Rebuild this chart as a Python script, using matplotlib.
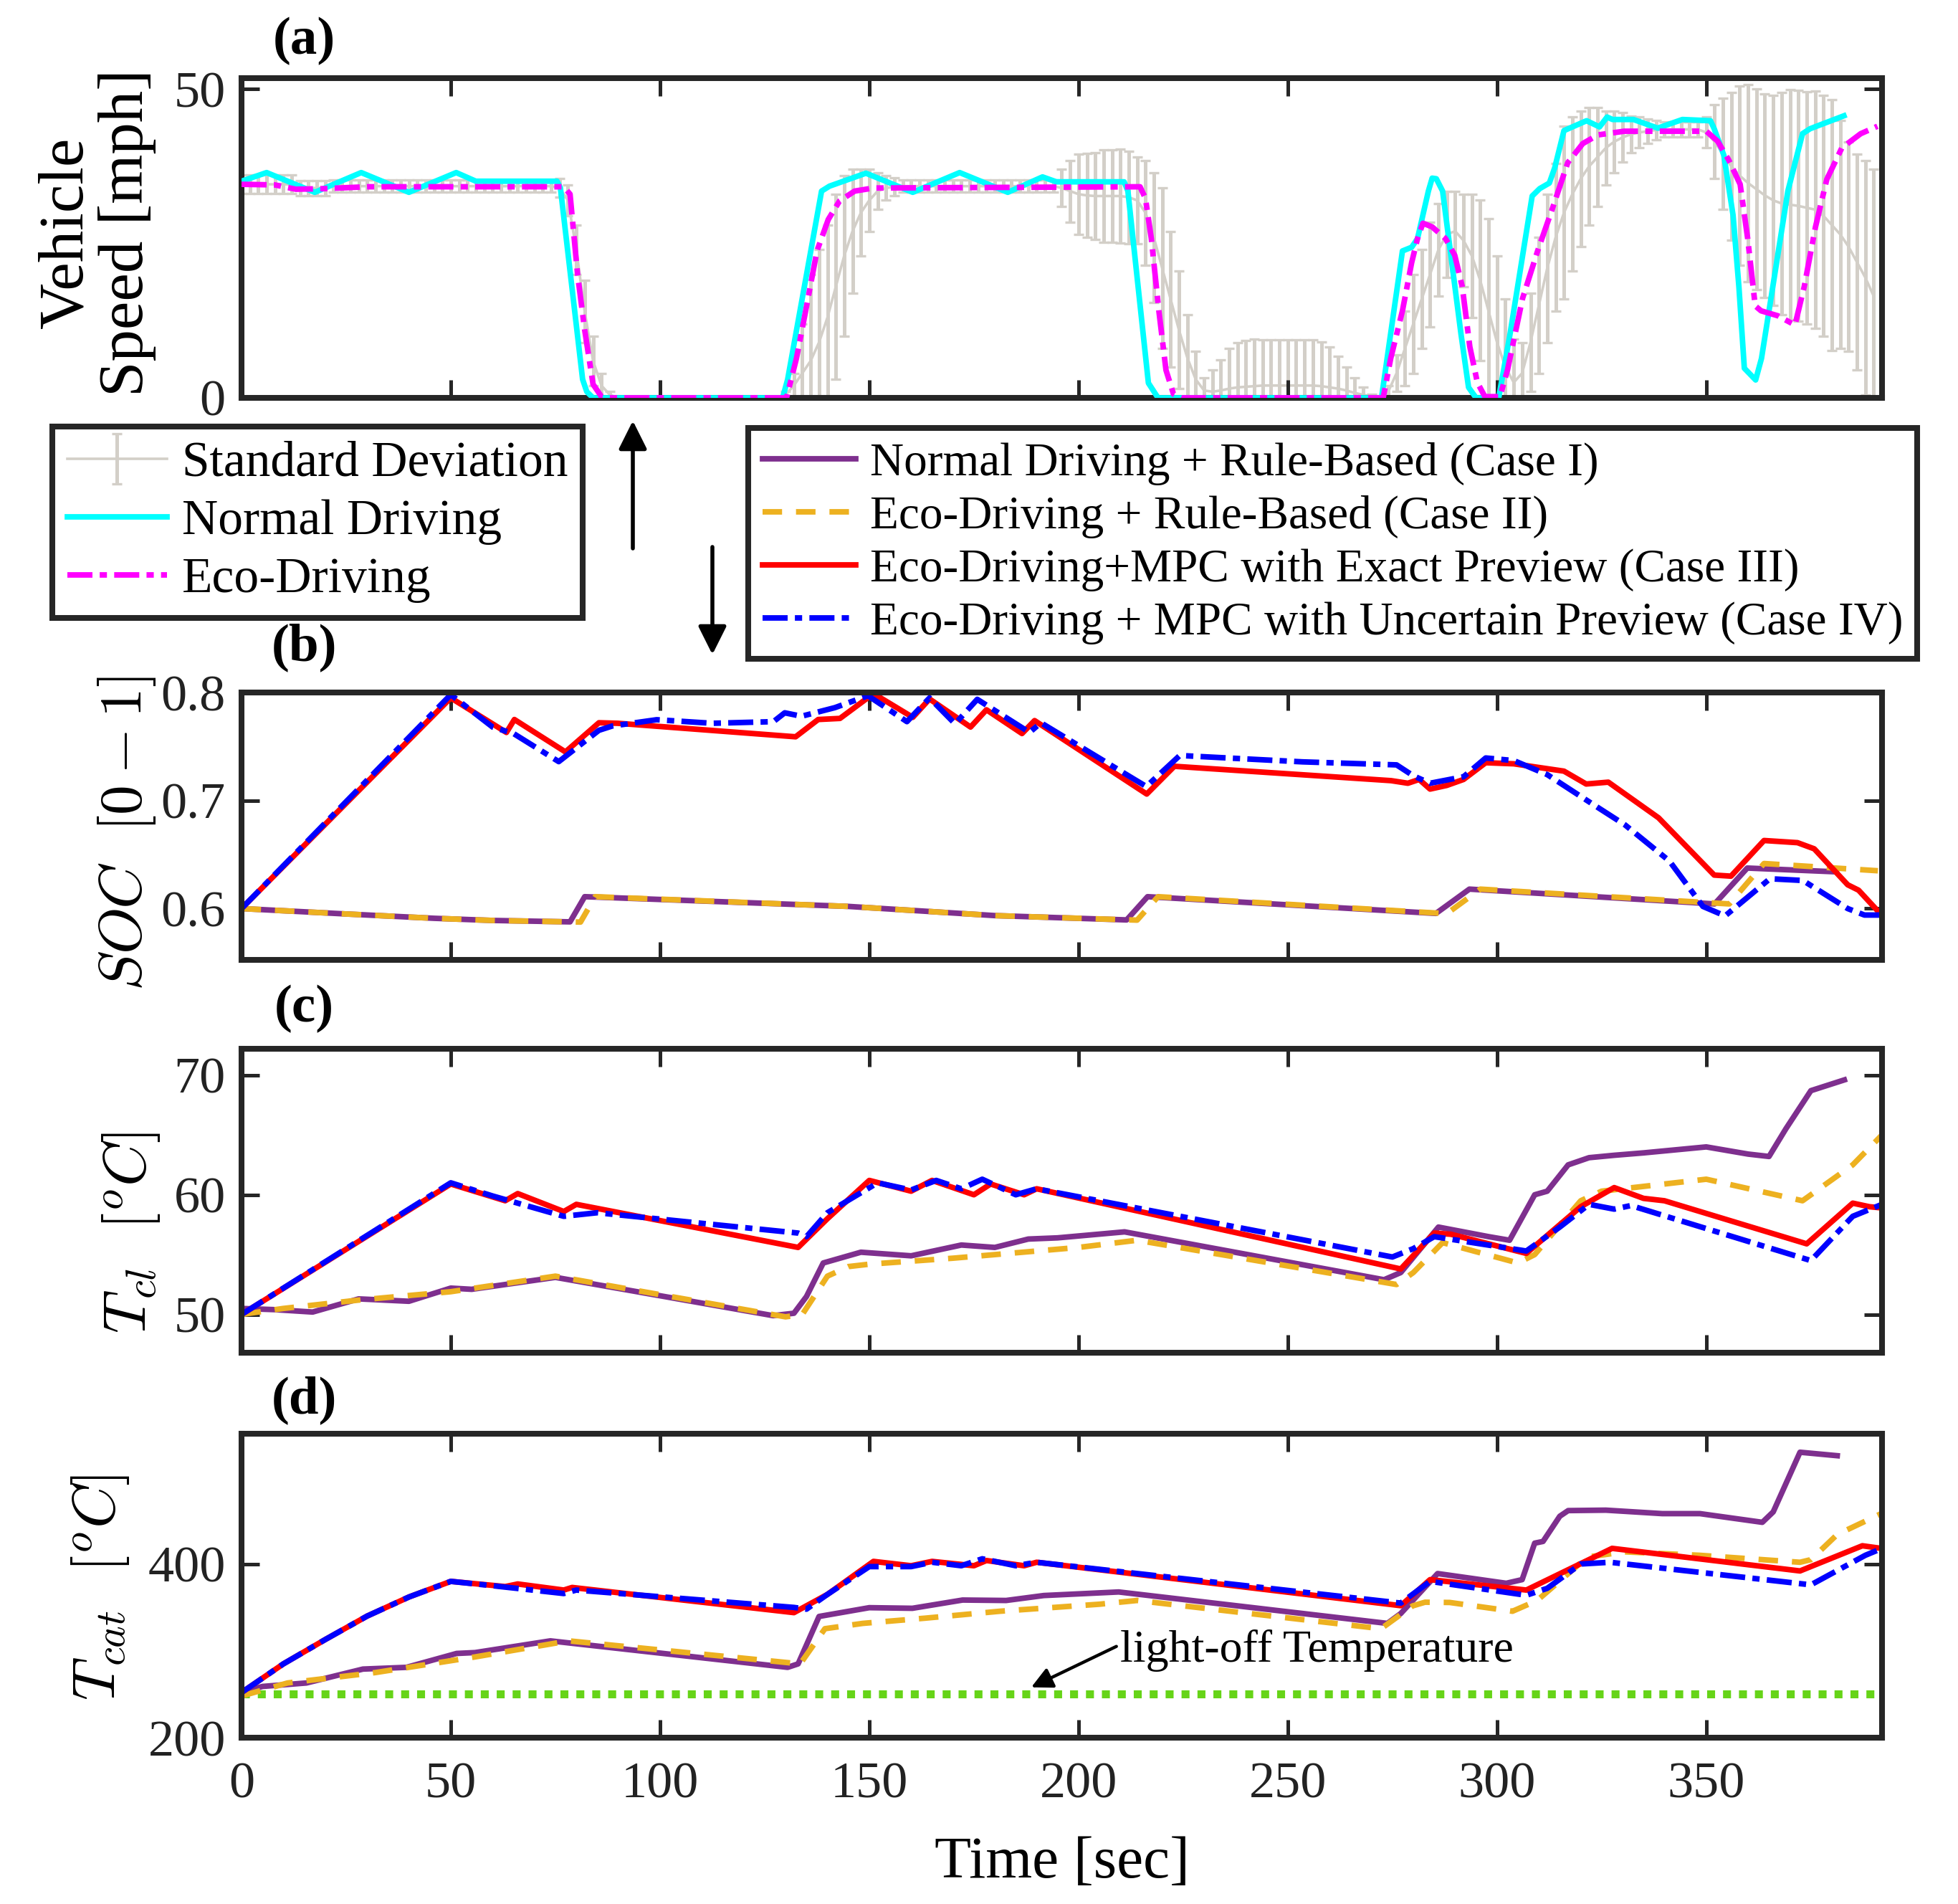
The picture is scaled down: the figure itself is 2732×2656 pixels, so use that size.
import numpy as np
import matplotlib
matplotlib.use('Agg')
import matplotlib.pyplot as plt

plt.rcParams['font.family'] = ['Liberation Serif', 'DejaVu Serif']
plt.rcParams['mathtext.fontset'] = 'cm'

# ---------------- panel (a): vehicle speed ----------------
# standard deviation band, sampled every 2 s
sd_t = np.arange(0, 392, 2)
sd_mean = [34.6] * 7 + [34.0] * 4 + [34.3] * 27 + \
    [34, 32, 24, 14, 6, 2, 0.5] + [0] * 20 + \
    [0.5, 2, 4, 6, 9, 13, 18, 23, 27, 30, 32, 33.5, 34, 34.2] + [34.3] * 19 + \
    [34, 33.5, 33, 32.8, 32.7, 32.7, 32.7, 32.7, 32.5, 32, 30, 26, 21, 16, 11, 6.5, 3, 1.2] + \
    [1.0, 1.2, 1.5, 1.7, 1.8, 1.9, 2.0, 2.0, 2.0, 2.0, 2.0, 2.0, 2.0, 1.9, 1.7, 1.5, 1.2, 0.8, 0.5, 0.2, 0] + \
    [1, 4, 8, 12, 16, 20, 24, 26.5, 27, 25.5, 23, 19, 14, 9, 5, 2.5] + \
    [4, 9, 15, 21, 26, 30, 33, 35.5, 37.5, 39, 40.5, 41.5, 42.2, 42.7, 43, 43.2, 43.4] + [43.5] * 5 + \
    [43, 41.5, 39.5, 37.5, 36, 34.8, 33.8, 32.8, 32, 31.5, 31.3, 31.1, 30.8, 30.5, 29.5, 28, 26.5, 24.5, 22, 19.5, 16.5]
sd_std = [1.5] * 7 + [1.2] * 4 + [1.0] * 27 + \
    [1.5, 2.5, 4, 5, 4, 2, 0.5] + [0] * 20 + \
    [0.5, 2, 8, 14, 15, 15, 15, 13, 10, 7, 5, 3, 2, 1.5] + [1.0] * 19 + \
    [3, 5, 6.5, 6.8, 7, 7.5, 7.5, 7.6, 7.5, 7, 8.5, 10.5, 13, 11, 9.5, 7, 4.5, 2] + \
    [3.5, 5, 6.5, 7.3, 7.5, 7.6, 7.4, 7.4, 7.4, 7.4, 7.4, 7.4, 7.4, 7.2, 6.5, 5.2, 3.8, 2.5, 1.2, 0.4, 0] + \
    [1, 3, 6, 8, 8, 8.5, 7.5, 7, 6.5, 7.5, 10, 13, 15, 14, 11, 7] + \
    [5, 8, 11, 12, 12, 14, 12.5, 11, 9.5, 8, 6, 5, 4, 3, 2.5, 2, 1.6] + [1.2] * 5 + \
    [2.5, 6, 9, 12, 14.5, 16, 16.3, 16.5, 17, 18, 18.6, 18.7, 18.8, 19.2, 19.5, 20.3, 18.5, 17, 17.5, 19, 20.5]

normal_t = [0, 6, 17.5, 28.6, 40, 51.3, 56, 75.4, 76.2, 81.5, 82.5, 84, 129.3, 130.5, 138.6, 140.5,
            149.2, 160.4, 171.6, 183.1, 191.4, 194.7, 210.9, 211.8, 216.7, 219, 272.4, 277.4, 279.6,
            281, 283.6, 284.5, 285.5, 287, 289.2, 291.4, 293.2, 295, 300.4, 303.1, 308.4, 310.2, 312.5,
            313.8, 316, 321.4, 324.5, 326.3, 327.6, 332.6, 338.4, 344.3, 351, 351.9, 354.2, 356.4,
            357.8, 359.1, 361.8, 363.2, 365.9, 369.5, 373, 374.8, 382.9]
normal_v = [35.1, 36.5, 33.3, 36.5, 33.3, 36.5, 35.1, 35.1, 34.0, 3.0, 1.0, 0, 0, 3.0, 33.5, 34.3,
            36.4, 33.3, 36.5, 33.3, 35.8, 35.0, 35.0, 33.5, 2.4, 0, 0, 23.8, 24.4,
            25.8, 33.5, 35.6, 35.5, 33.5, 21.9, 10.3, 1.7, 0, 0, 10.3, 32.7, 33.9, 34.8,
            37.3, 43.3, 44.9, 43.9, 45.5, 45.1, 45.1, 43.7, 45.1, 44.9, 43.6, 39.3, 29.6,
            18.0, 4.8, 2.9, 6.4, 18.0, 33.5, 42.8, 43.6, 45.7]

eco_t = [0, 8, 13, 20, 30, 77, 78.5, 80.3, 82, 84, 86, 87.5, 130, 130.3, 132.6, 134.8, 137.5, 140.2,
         142.9, 146.5, 151, 214.7, 216, 217.4, 219.2, 220.9, 222.7, 224.5, 272.8, 274.6, 277.4, 279.6,
         281, 282.3, 284.5, 287.7, 289.9, 291.7, 293.5, 295.3, 297.1, 300.7, 302.5, 306.1, 309.7,
         313.3, 316.9, 320.5, 324.1, 330.4, 350, 352.7, 355.4, 358.1, 359.9, 361.7, 363.1, 367.1,
         371.2, 373.4, 376.1, 378.8, 382.4, 386.9, 390.9]
eco_v = [34.6, 34.5, 33.8, 33.9, 34.2, 34.2, 33.0, 20.0, 11.0, 2.2, 0.2, 0, 0, 0.2, 6.4, 14.1, 23.8, 28.9,
         31.9, 33.5, 34.0, 34.2, 32.3, 25.8, 14.1, 4.5, 0.6, 0, 0, 6.4, 14.1, 21.9,
         25.8, 28.3, 27.7, 25.8, 23.1, 18.0, 8.3, 2.5, 0.2, 0.2, 4.5, 16.1, 23.8,
         30.8, 38.1, 41.2, 42.6, 43.2, 43.2, 41.6, 38.5, 34.6, 25.8, 14.9, 14.1, 13.3,
         11.8, 18.0, 27.7, 35.4, 40.5, 42.8, 44.0]

# ---------------- panel (b): SOC ----------------
soc1_t = [0, 25, 46, 60, 78.5, 82, 145, 180, 211.5, 216.5, 285.4, 293.4, 352, 359.8, 381.1]
soc1_v = [0.6, 0.595, 0.591, 0.589, 0.5877, 0.611, 0.602, 0.5935, 0.5895, 0.611, 0.5955, 0.618,
          0.6043, 0.6375, 0.634]
soc2_t = [0, 25, 46, 60, 81, 84.5, 145, 180, 214, 219, 288, 296, 355.5, 363.8, 391]
soc2_v = [0.6, 0.595, 0.591, 0.589, 0.5875, 0.611, 0.602, 0.5935, 0.5893, 0.611, 0.5953, 0.618,
          0.6043, 0.6417, 0.635]
soc3_t = [0, 50, 63.3, 65.2, 77.4, 85.4, 89.9, 132.4, 137.8, 143, 151, 160.4, 164.4, 174.2, 178,
          186.5, 189.5, 216.3, 222.9, 274.7, 278.7, 281.4, 284, 288, 292, 297.3, 304, 309.3, 316,
          321.3, 326.6, 338.6, 351.9, 355.9, 363.8, 371.8, 375.8, 383.8, 386.4, 391.8]
soc3_v = [0.6, 0.795, 0.763, 0.775, 0.745, 0.772, 0.7715, 0.759, 0.775, 0.776, 0.799, 0.777, 0.794,
          0.768, 0.784, 0.762, 0.774, 0.706, 0.7317, 0.7184, 0.716, 0.7195, 0.7106, 0.714, 0.7195,
          0.735, 0.734, 0.731, 0.7272, 0.7153, 0.717, 0.684, 0.631, 0.630, 0.663, 0.661, 0.6553,
          0.622, 0.617, 0.5944]
soc4_t = [0, 50, 60, 65, 75.8, 85.4, 88.6, 99.2, 112.5, 127.1, 129.8, 133.8, 141.8, 145.7, 149.7,
          159, 164.4, 170.5, 175.8, 188.3, 191, 213.6, 216.2, 224.2, 253.5, 276, 280, 284, 292,
          297.3, 304, 312, 322.6, 330.6, 341.2, 349.2, 354.5, 365.2, 373.1, 383.8, 387.8, 391.8]
soc4_v = [0.6, 0.798, 0.768, 0.762, 0.736, 0.765, 0.769, 0.7748, 0.7715, 0.773, 0.7812, 0.778,
          0.786, 0.7915, 0.797, 0.773, 0.795, 0.771, 0.7937, 0.763, 0.772, 0.719, 0.713, 0.7417,
          0.7358, 0.733, 0.7229, 0.716, 0.722, 0.7394, 0.737, 0.724, 0.6973, 0.6774, 0.644, 0.602,
          0.5932, 0.6276, 0.626, 0.600, 0.594, 0.594]

# ---------------- panel (c): coolant temperature ----------------
tcl1_t = [0, 8, 17, 28, 40, 50, 55, 75, 127, 132, 135, 139, 148, 160, 172, 180, 188, 195, 211, 273,
          277, 286, 298, 303, 309, 312, 317, 322, 328, 335, 350, 360, 365, 369, 375, 383]
tcl1_v = [50.5, 50.4, 50.2, 51.3, 51.1, 52.2, 52.1, 53.1, 49.9, 50.1, 51.5, 54.3, 55.2, 54.9, 55.8,
          55.6, 56.3, 56.4, 56.9, 52.9, 53.5, 57.3, 56.5, 56.2, 60, 60.3, 62.5, 63.1, 63.3, 63.5,
          64, 63.4, 63.2, 65.5, 68.7, 69.6]
tcl2_t = [0, 10, 28, 50, 75, 130, 134, 140, 145, 150, 170, 200, 214, 276, 280, 287, 305, 309, 320,
          325, 350, 373, 385, 392]
tcl2_v = [50, 50.5, 51.2, 51.9, 53.2, 49.8, 50, 53.2, 54, 54.2, 54.7, 55.6, 56.2, 52.5, 53.5, 56,
          54.3, 55, 59.5, 60.3, 61.3, 59.5, 62.5, 65]
tcl3_t = [0, 50, 63, 66, 77, 80, 133, 140, 150, 160, 165, 175, 179, 187, 190, 277, 285, 289, 307,
          315, 320, 328, 335, 340, 374, 385, 389, 392]
tcl3_v = [50, 60.9, 59.5, 60.1, 58.6, 59.2, 55.6, 58, 61.2, 60.3, 61.2, 60, 60.9, 60, 60.5, 53.8,
          56.8, 56.7, 55.1, 57.5, 59, 60.6, 59.7, 59.5, 55.9, 59.3, 59, 58.9]
tcl4_t = [0, 50, 60, 77, 85, 133, 135, 140, 152, 160, 166, 172, 177, 185, 190, 275, 280, 285, 307,
          315, 322, 328, 332, 375, 385, 392]
tcl4_v = [50, 61, 59.9, 58.2, 58.5, 56.8, 56.5, 58.5, 61, 60.4, 61.2, 60.5, 61.3, 60, 60.5, 54.8,
          55.5, 56.5, 55.3, 57.3, 59.2, 58.8, 59.1, 54.5, 58.2, 59.2]

# ---------------- panel (d): catalyst temperature ----------------
tcat1_t = [0, 5, 15.5, 29, 39.4, 51.4, 55.8, 73.8, 130.5, 133, 138, 150, 160.3, 172.3, 182.7, 191.7,
           209.6, 273.8, 277, 285.8, 302.2, 306, 309, 311, 315, 317, 326, 339.5, 348.5, 363.4, 366,
           372.4, 381.3]
tcat1_v = [252, 259, 263, 279, 281, 297, 298, 311.5, 281, 285, 339.6, 349.7, 349, 358.5, 358, 363.7,
           367.8, 331.6, 343, 389, 377.8, 382, 424, 426, 455, 461.5, 462, 458, 458, 448, 460,
           528.7, 524.7]
tcat2_t = [0, 11, 32, 55.8, 78.2, 133.5, 139.4, 148.4, 163.3, 181.2, 205, 214, 272.3, 279.8, 282.8,
           288.7, 303.7, 309.6, 321.6, 330.5, 348.5, 372.4, 375, 381.3, 391.8]
tcat2_v = [248, 263, 275, 293, 311.5, 285, 325.5, 331.6, 337.6, 345.6, 353.7, 358, 325.5, 351.7, 356,
           355.7, 345.6, 358, 408, 414, 410, 402, 405, 434, 458]
tcat3_t = [0, 10, 20, 30, 40, 50, 63, 66, 77, 79, 132, 140, 151, 160, 165, 175, 178, 187, 190, 277,
           284, 307, 327.5, 372.4, 387.3, 391.8]
tcat3_v = [252, 285, 313, 340, 362, 380, 374, 377, 370, 373, 344, 365, 403, 398, 403, 398, 404, 398,
           402, 352, 382, 370, 418, 392, 421, 418]
tcat4_t = [0, 10, 20, 30, 40, 50, 60, 77, 80, 132, 135, 140, 150, 160, 165, 172, 177, 185, 190, 277,
           284, 307, 312, 320, 327, 375, 388, 392]
tcat4_v = [252, 285, 313, 340, 362, 380, 375, 366, 370, 350, 348, 365, 397, 397, 402, 398, 406, 398,
           402, 355, 380, 364, 372, 400, 402, 376, 410, 418]
light_off = 250

case_labels = ['Normal Driving + Rule-Based (Case I)',
               'Eco-Driving + Rule-Based (Case II)',
               'Eco-Driving+MPC with Exact Preview (Case III)',
               'Eco-Driving + MPC with Uncertain Preview (Case IV)']

# ---------------- styling ----------------
W, H = 2732, 2656
DARK = '#262626'
GRAY = '#d3cfc8'
PURPLE = '#7e2f8e'
ORANGE = '#edb120'
LW = 2.8
DASH = (0, (3.5, 2.5))
DASHDOT = (0, (4.5, 1.3, 1.3, 1.3))

fig = plt.figure(figsize=(W / 200, H / 200), dpi=200)


def box(top, bottom):
    return [337 / W, 1 - bottom / H, (2626 - 337) / W, (bottom - top) / H]


ax_a = fig.add_axes(box(109, 555))
ax_b = fig.add_axes(box(966, 1339))
ax_c = fig.add_axes(box(1463, 1887))
ax_d = fig.add_axes(box(2000, 2424))

for ax in (ax_a, ax_b, ax_c, ax_d):
    ax.set_xlim(0, 392)
    ax.set_xticks(np.arange(0, 351, 50))
    for s in ax.spines.values():
        s.set_linewidth(2.9)
        s.set_color(DARK)
    ax.tick_params(direction='in', length=9, width=1.8, top=True, right=True,
                   labelsize=26, colors=DARK, labelcolor='#222222', pad=8)
    ax.tick_params(axis='x', pad=12)
    if ax is not ax_d:
        ax.tick_params(labelbottom=False)

# (a)
eb = ax_a.errorbar(sd_t, sd_mean, yerr=sd_std, color=GRAY, lw=1.3, elinewidth=1.8,
                   capsize=2.6, capthick=1.2, zorder=1)
ln_n, = ax_a.plot(normal_t, normal_v, color='#00ffff', lw=LW, zorder=3)
ln_e, = ax_a.plot(eco_t, eco_v, color='#ff00ff', lw=LW, ls=DASHDOT, zorder=4)
ax_a.set_ylim(0, 51.8)
ax_a.set_yticks([0, 50])

# (b)
ax_b.plot(soc1_t, soc1_v, color=PURPLE, lw=LW)
ax_b.plot(soc2_t, soc2_v, color=ORANGE, lw=LW, ls=DASH)
ax_b.plot(soc3_t, soc3_v, color='#ff0000', lw=LW)
ax_b.plot(soc4_t, soc4_v, color='#0000ff', lw=LW, ls=DASHDOT)
ax_b.set_ylim(0.5525, 0.8)
ax_b.set_yticks([0.6, 0.7, 0.8])

# (c)
ax_c.plot(tcl1_t, tcl1_v, color=PURPLE, lw=LW)
ax_c.plot(tcl2_t, tcl2_v, color=ORANGE, lw=LW, ls=DASH)
ax_c.plot(tcl3_t, tcl3_v, color='#ff0000', lw=LW)
ax_c.plot(tcl4_t, tcl4_v, color='#0000ff', lw=LW, ls=DASHDOT)
ax_c.set_ylim(46.8, 72.2)
ax_c.set_yticks([50, 60, 70])

# (d)
h1, = ax_d.plot(tcat1_t, tcat1_v, color=PURPLE, lw=LW)
h2, = ax_d.plot(tcat2_t, tcat2_v, color=ORANGE, lw=LW, ls=DASH)
h3, = ax_d.plot(tcat3_t, tcat3_v, color='#ff0000', lw=LW)
h4, = ax_d.plot(tcat4_t, tcat4_v, color='#0000ff', lw=LW, ls=DASHDOT)
ax_d.axhline(light_off, color='#66d418', lw=4.0, ls=(0, (1, 1)), zorder=0.5)
ax_d.set_ylim(200, 550)
ax_d.set_yticks([200, 400])
ax_d.set_xlabel('Time [sec]', fontsize=30, labelpad=14)
ax_d.annotate('light-off Temperature', xy=(188.7, 258), xytext=(210, 300),
              fontsize=23, ha='left', va='center',
              arrowprops=dict(arrowstyle='-|>', color='k', lw=1.6, mutation_scale=22,
                              relpos=(0, 0.65), shrinkA=0, shrinkB=0))

# y labels
fig.text(135 / W, 1 - 325 / H, 'Vehicle\nSpeed [mph]', rotation=90, fontsize=32,
         ha='center', va='center', linespacing=1.05)
fig.text(177 / W, 1 - 1163 / H, r'$SOC\ \ [0-1]$', rotation=90, fontsize=30,
         ha='center', va='center')
fig.text(183 / W, 1 - 1720 / H, r'$T_{cl}\ \ [^oC]$', rotation=90, fontsize=30,
         ha='center', va='center')
fig.text(140 / W, 1 - 2215 / H, r'$T_{cat}\ \ [^oC]$', rotation=90, fontsize=30,
         ha='center', va='center')

# panel letters
for lbl, y in (('(a)', 57), ('(b)', 903), ('(c)', 1407), ('(d)', 1953)):
    fig.text(424 / W, 1 - y / H, lbl, fontsize=27, fontweight='bold', ha='center', va='center')

# legends
leg1 = fig.legend([eb, ln_n, ln_e], ['Standard Deviation', 'Normal Driving', 'Eco-Driving'],
                  loc='upper left', bbox_to_anchor=(73 / W, 1 - 595 / H), fontsize=25,
                  fancybox=False, edgecolor=DARK, framealpha=1, handlelength=2.0,
                  handletextpad=0.3, labelspacing=0.25, borderpad=0.3, borderaxespad=0)
leg1.get_frame().set_linewidth(2.9)
leg2 = fig.legend([h1, h2, h3, h4], case_labels,
                  loc='upper left', bbox_to_anchor=(1044 / W, 1 - 597 / H), fontsize=23.5,
                  fancybox=False, edgecolor=DARK, framealpha=1, handlelength=2.0,
                  handletextpad=0.3, labelspacing=0.22, borderpad=0.3, borderaxespad=0)
leg2.get_frame().set_linewidth(2.9)

# arrows between the legends
arrow = dict(arrowstyle='-|>', color='k', lw=2.0, mutation_scale=30, shrinkA=0, shrinkB=0)
ax_a.annotate('', xy=(883 / W, 1 - 587 / H), xytext=(883 / W, 1 - 765 / H),
              xycoords='figure fraction', textcoords='figure fraction',
              arrowprops=arrow, annotation_clip=False)
ax_a.annotate('', xy=(994 / W, 1 - 913 / H), xytext=(994 / W, 1 - 763 / H),
              xycoords='figure fraction', textcoords='figure fraction',
              arrowprops=arrow, annotation_clip=False)

fig.savefig('out.png', dpi=200)
